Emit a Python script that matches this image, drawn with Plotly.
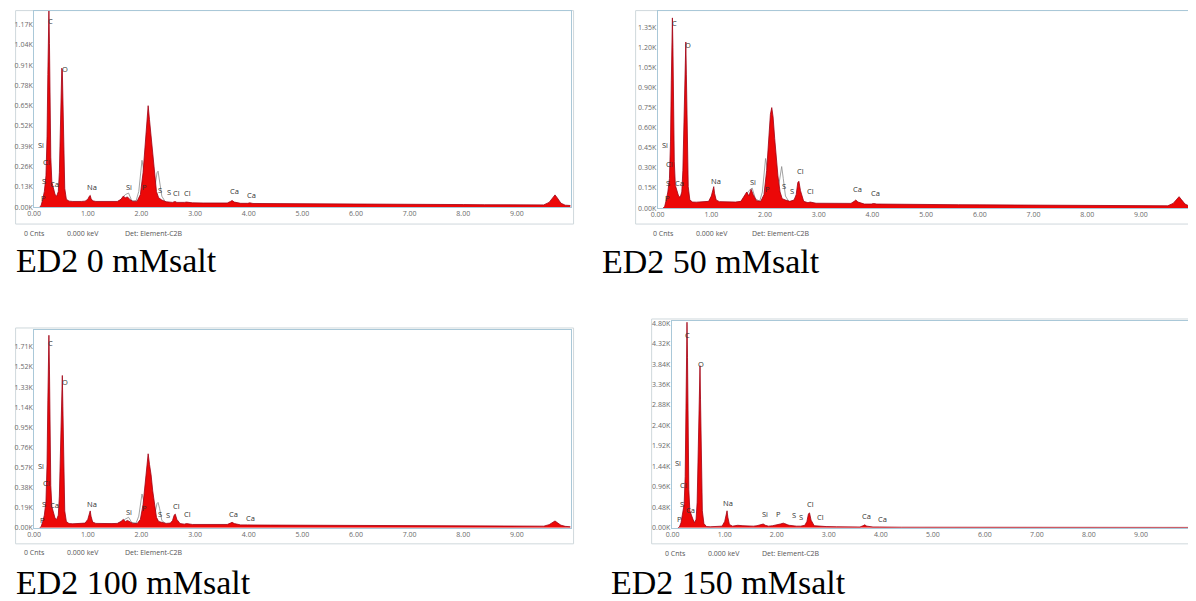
import plotly.graph_objects as go

W, H = 1196, 601
# observed mapping of figure pixels onto the photographed page
SX, OX = 0.9934, 15.85
SY, OY = 0.9907, 8.8

# ---------------- data ----------------
energy_kev = [
    0.10, 0.13, 0.16, 0.19, 0.22, 0.24, 0.255, 0.265, 0.275, 0.285,
    0.295, 0.31, 0.33, 0.35, 0.37, 0.39, 0.42, 0.45, 0.47, 0.49,
    0.505, 0.515, 0.525, 0.535, 0.55, 0.57, 0.60, 0.65, 0.72, 0.80,
    0.88, 0.95, 1.00, 1.03, 1.045, 1.06, 1.09, 1.15, 1.25, 1.35,
    1.45, 1.55, 1.62, 1.66, 1.70, 1.74, 1.78, 1.84, 1.92, 1.98,
    2.03, 2.07, 2.10, 2.125, 2.15, 2.18, 2.21, 2.24, 2.28, 2.32,
    2.38, 2.46, 2.54, 2.58, 2.61, 2.63, 2.66, 2.72, 2.80, 2.84,
    2.95, 3.15, 3.40, 3.60, 3.66, 3.69, 3.73, 3.85, 3.98, 4.02,
    4.08, 4.40, 4.80, 5.20, 5.60, 6.00, 6.40, 6.80, 7.20, 7.60,
    8.00, 8.40, 8.80, 9.20, 9.50, 9.60, 9.67, 9.71, 9.75, 9.82, 9.90, 10.00,
]

# counts in thousands (K)
counts_0mM = [
    0.00, 0.01, 0.05, 0.10, 0.20, 0.45, 0.85, 1.15, 1.26, 1.05,
    0.70, 0.32, 0.16, 0.13, 0.10, 0.08, 0.07, 0.10, 0.22, 0.55,
    0.80, 0.89, 0.88, 0.70, 0.35, 0.12, 0.05, 0.038, 0.036, 0.035,
    0.036, 0.038, 0.05, 0.07, 0.075, 0.055, 0.04, 0.036, 0.035, 0.034,
    0.034, 0.036, 0.05, 0.07, 0.06, 0.065, 0.05, 0.036, 0.038, 0.08,
    0.22, 0.42, 0.58, 0.65, 0.56, 0.45, 0.32, 0.20, 0.10, 0.06,
    0.045, 0.034, 0.03, 0.03, 0.034, 0.035, 0.03, 0.028, 0.03, 0.032,
    0.027, 0.026, 0.025, 0.026, 0.036, 0.042, 0.032, 0.024, 0.024, 0.027,
    0.023, 0.022, 0.022, 0.021, 0.02, 0.02, 0.019, 0.018, 0.017, 0.016,
    0.016, 0.015, 0.014, 0.014, 0.014, 0.03, 0.06, 0.078, 0.06, 0.025, 0.012, 0.01,
]
counts_50mM = [
    0.00, 0.01, 0.06, 0.12, 0.22, 0.50, 0.95, 1.30, 1.42, 1.20,
    0.80, 0.35, 0.17, 0.14, 0.11, 0.09, 0.08, 0.12, 0.28, 0.70,
    1.05, 1.22, 1.24, 1.00, 0.50, 0.16, 0.06, 0.045, 0.044, 0.045,
    0.046, 0.05, 0.09, 0.15, 0.16, 0.11, 0.06, 0.048, 0.046, 0.045,
    0.045, 0.05, 0.10, 0.12, 0.09, 0.14, 0.10, 0.055, 0.05, 0.10,
    0.28, 0.55, 0.70, 0.75, 0.68, 0.52, 0.38, 0.24, 0.12, 0.07,
    0.06, 0.05, 0.06, 0.10, 0.19, 0.20, 0.13, 0.05, 0.04, 0.045,
    0.036, 0.034, 0.032, 0.035, 0.05, 0.06, 0.045, 0.03, 0.03, 0.034,
    0.03, 0.028, 0.027, 0.026, 0.025, 0.024, 0.023, 0.022, 0.021, 0.02,
    0.019, 0.018, 0.017, 0.017, 0.017, 0.035, 0.065, 0.085, 0.065, 0.03, 0.015, 0.012,
]
counts_100mM = [
    0.00, 0.01, 0.06, 0.12, 0.25, 0.60, 1.20, 1.65, 1.82, 1.50,
    0.95, 0.40, 0.20, 0.16, 0.12, 0.09, 0.08, 0.12, 0.30, 0.75,
    1.20, 1.42, 1.44, 1.15, 0.55, 0.16, 0.06, 0.04, 0.038, 0.038,
    0.04, 0.045, 0.08, 0.14, 0.16, 0.11, 0.055, 0.042, 0.04, 0.04,
    0.04, 0.042, 0.06, 0.08, 0.06, 0.07, 0.06, 0.042, 0.04, 0.08,
    0.22, 0.45, 0.62, 0.70, 0.60, 0.50, 0.35, 0.22, 0.10, 0.06,
    0.05, 0.042, 0.045, 0.07, 0.12, 0.13, 0.08, 0.04, 0.035, 0.04,
    0.032, 0.03, 0.03, 0.032, 0.045, 0.052, 0.04, 0.028, 0.028, 0.03,
    0.027, 0.026, 0.025, 0.024, 0.023, 0.022, 0.021, 0.02, 0.02, 0.019,
    0.018, 0.017, 0.017, 0.016, 0.016, 0.03, 0.05, 0.065, 0.05, 0.025, 0.014, 0.01,
]
counts_150mM = [
    0.00, 0.02, 0.12, 0.30, 0.55, 1.20, 2.80, 4.20, 4.82, 4.00,
    2.40, 0.90, 0.40, 0.32, 0.28, 0.20, 0.12, 0.20, 0.60, 2.00,
    3.30, 3.78, 3.80, 3.00, 1.30, 0.40, 0.10, 0.03, 0.025, 0.025,
    0.03, 0.04, 0.15, 0.36, 0.40, 0.25, 0.08, 0.04, 0.06, 0.05,
    0.04, 0.04, 0.05, 0.06, 0.07, 0.09, 0.06, 0.04, 0.05, 0.06,
    0.08, 0.09, 0.10, 0.11, 0.10, 0.08, 0.07, 0.06, 0.05, 0.05,
    0.04, 0.04, 0.06, 0.15, 0.33, 0.35, 0.18, 0.05, 0.04, 0.05,
    0.03, 0.025, 0.02, 0.02, 0.05, 0.07, 0.04, 0.02, 0.02, 0.025,
    0.018, 0.015, 0.014, 0.012, 0.012, 0.011, 0.01, 0.01, 0.01, 0.01,
    0.01, 0.01, 0.01, 0.01, 0.01, 0.01, 0.012, 0.012, 0.012, 0.01, 0.01, 0.01,
]

# grey fit outline (visible around Si, P and S)
fit_energy = [1.55, 1.62, 1.70, 1.76, 1.82, 1.90, 1.95, 1.98, 2.01, 2.04,
              2.07, 2.10, 2.22, 2.26, 2.29, 2.31, 2.34, 2.38, 2.45]
fit_0mM = [0.03, 0.05, 0.08, 0.09, 0.04, 0.04, 0.10, 0.22, 0.30, 0.24,
           0.12, 0.05, 0.05, 0.14, 0.22, 0.23, 0.17, 0.07, 0.03]
fit_50mM = [0.045, 0.08, 0.13, 0.15, 0.07, 0.05, 0.12, 0.28, 0.37, 0.30,
            0.15, 0.06, 0.08, 0.20, 0.29, 0.31, 0.22, 0.09, 0.045]
fit_100mM = [0.04, 0.06, 0.09, 0.10, 0.05, 0.045, 0.11, 0.24, 0.32, 0.26,
             0.13, 0.05, 0.06, 0.15, 0.23, 0.24, 0.18, 0.07, 0.04]

panel_captions = ["ED2 0 mMsalt", "ED2 50 mMsalt", "ED2 100 mMsalt", "ED2 150 mMsalt"]

x_tick_vals = [0, 1, 2, 3, 4, 5, 6, 7, 8, 9]
y_ticks_0mM = [0.00, 0.13, 0.26, 0.39, 0.52, 0.65, 0.78, 0.91, 1.04, 1.17]
y_ticks_50mM = [0.00, 0.15, 0.30, 0.45, 0.60, 0.75, 0.90, 1.05, 1.20, 1.35]
y_ticks_100mM = [0.00, 0.19, 0.38, 0.57, 0.76, 0.95, 1.14, 1.33, 1.52, 1.71]
y_ticks_150mM = [0.00, 0.48, 0.96, 1.44, 1.92, 2.40, 2.88, 3.36, 3.84, 4.32, 4.80]

element_names = ["C", "O", "Si", "Cl", "S", "Ca", "P", "Na", "Si", "P",
                 "S", "S", "Cl", "Cl", "Ca", "Ca"]
label_x_0mM = [0.31, 0.57, 0.135, 0.23, 0.185, 0.37, 0.17, 1.08, 1.77, 2.05, 2.34, 2.51, 2.65, 2.85, 3.73, 4.05]
label_y_0mM = [1.195, 0.886, 0.40, 0.29, 0.167, 0.148, 0.06, 0.13, 0.13, 0.13, 0.108, 0.098, 0.092, 0.092, 0.10, 0.08]
label_x_50mM = [0.317, 0.565, 0.13, 0.22, 0.19, 0.40, 0.19, 1.08, 1.78, 2.05, 2.35, 2.50, 2.66, 2.85, 3.72, 4.06]
label_y_50mM = [1.38, 1.22, 0.47, 0.33, 0.19, 0.19, 0.077, 0.20, 0.196, 0.144, 0.164, 0.127, 0.28, 0.13, 0.144, 0.114]
label_x_100mM = [0.31, 0.57, 0.135, 0.23, 0.185, 0.38, 0.16, 1.08, 1.77, 2.06, 2.34, 2.50, 2.66, 2.85, 3.71, 4.04]
label_y_100mM = [1.75, 1.38, 0.586, 0.42, 0.224, 0.217, 0.076, 0.224, 0.154, 0.186, 0.135, 0.123, 0.208, 0.129, 0.135, 0.097]
label_x_150mM = [0.29, 0.55, 0.10, 0.21, 0.17, 0.35, 0.13, 1.06, 1.77, 2.04, 2.33, 2.47, 2.65, 2.84, 3.72, 4.04]
label_y_150mM = [4.53, 3.83, 1.53, 1.0, 0.57, 0.42, 0.2, 0.59, 0.335, 0.32, 0.30, 0.26, 0.57, 0.26, 0.28, 0.2]

footer_texts = ["0 Cnts", "0.000 keV", "Det: Element-C2B"]

# ---------------- layout geometry (target pixels in the picture) ----------------
# inner: (left, right, top, bottom) of the plot area; xr: energy at left/right edge
panels = [
    dict(counts=counts_0mM, fit=fit_0mM, yt=y_ticks_0mM, ymax=1.275,
         lx=label_x_0mM, ly=label_y_0mM, xr=(0.0, 10.0),
         inner=(35, 571, 7, 206), outer=(8, 574, 4, 223),
         footer_y=232, footer_x=(25, 68, 126), cap=(7, 259.5)),
    dict(counts=counts_50mM, fit=fit_50mM, yt=y_ticks_50mM, ymax=1.47,
         lx=label_x_50mM, ly=label_y_50mM, xr=(0.0, 9.97),
         inner=(658, 1193, 10, 207), outer=(636, 1195, 7, 223),
         footer_y=232, footer_x=(653, 696, 752), cap=(602, 260)),
    dict(counts=counts_100mM, fit=fit_100mM, yt=y_ticks_100mM, ymax=1.87,
         lx=label_x_100mM, ly=label_y_100mM, xr=(0.0, 10.0),
         inner=(35, 571, 329, 527), outer=(8, 574, 327, 543),
         footer_y=552, footer_x=(25, 68, 126), cap=(8, 581.5)),
    dict(counts=counts_150mM, fit=None, yt=y_ticks_150mM, ymax=4.85,
         lx=label_x_150mM, ly=label_y_150mM, xr=(-0.02, 10.02),
         inner=(672, 1194, 320, 527), outer=(652, 1195, 318, 543),
         footer_y=553, footer_x=(665, 708, 762), cap=(611, 581.5)),
]

TOP_MIN = OY + 0.6      # first picture row the figure can reach
LEFT_MIN = OX + 0.6


def fx(px):
    return (px - OX) / SX / W


def fy(py):
    return 1 - (py - OY) / SY / H


fig = go.Figure()
layout = dict(width=W, height=H, margin=dict(l=0, r=0, t=0, b=0),
              paper_bgcolor="white", plot_bgcolor="white", showlegend=False)
shapes, annotations = [], []

tick_font = dict(family="Open Sans", size=7, color="#6a6a6a")

for i, p in enumerate(panels):
    n = "" if i == 0 else str(i + 1)
    xa, ya = "x" + n, "y" + n
    x0, x1, y0, y1 = p["inner"]
    top = max(y0, TOP_MIN)
    ymax = p["ymax"] * (y1 - top) / (y1 - y0)
    if p["fit"] is not None:
        fig.add_trace(go.Scatter(x=fit_energy, y=p["fit"], mode="lines",
                                 line=dict(color="#8a8a8a", width=0.8),
                                 xaxis=xa, yaxis=ya, hoverinfo="skip"))
    fig.add_trace(go.Scatter(x=energy_kev, y=p["counts"], mode="lines",
                             fill="tozeroy", fillcolor="rgb(236,8,8)",
                             line=dict(color="rgb(160,0,20)", width=0.8),
                             xaxis=xa, yaxis=ya, hoverinfo="skip"))
    layout["xaxis" + n] = dict(
        domain=[fx(x0), fx(x1)], range=list(p["xr"]), anchor=ya,
        tickvals=x_tick_vals, ticktext=[f"{v:.2f}" for v in x_tick_vals],
        tickfont=tick_font, showgrid=False, zeroline=False, ticks="",
        showline=True, linecolor="#aac8d8", linewidth=1, mirror=True,
        fixedrange=True)
    layout["yaxis" + n] = dict(
        domain=[fy(y1), fy(top)], range=[0, ymax], anchor=xa,
        tickvals=p["yt"], ticktext=[f"{v:.2f}K" for v in p["yt"]],
        tickfont=tick_font, showgrid=False, zeroline=False, ticks="",
        ticklabelstandoff=-1,
        showline=True, linecolor="#aac8d8", linewidth=1, mirror=True,
        fixedrange=True)
    ox0, ox1, oy0, oy1 = p["outer"]
    shapes.append(dict(type="rect", xref="paper", yref="paper",
                       x0=fx(max(ox0, LEFT_MIN)), x1=fx(ox1),
                       y0=fy(oy1), y1=fy(max(oy0, TOP_MIN)),
                       line=dict(color="#cfd8dc", width=1), layer="below"))
    for name, lx, ly in zip(element_names, p["lx"], p["ly"]):
        annotations.append(dict(x=lx, y=ly, xref=xa, yref=ya, text=name,
                                showarrow=False, xanchor="center", yanchor="middle",
                                font=dict(family="Open Sans", size=7.5, color="#333333")))
    for txt, fxp in zip(footer_texts, p["footer_x"]):
        annotations.append(dict(x=fx(fxp - 2), y=fy(p["footer_y"]), xref="paper", yref="paper",
                                text=txt, showarrow=False, xanchor="left", yanchor="middle",
                                align="left",
                                font=dict(family="Open Sans", size=7, color="#555555")))
    cx, cy = p["cap"]
    annotations.append(dict(x=fx(max(cx, LEFT_MIN)) - 2 / W, y=fy(cy), xref="paper", yref="paper",
                            text=panel_captions[i], showarrow=False,
                            xanchor="left", yanchor="middle", align="left",
                            font=dict(family="Liberation Serif", size=34, color="black")))

layout["shapes"] = shapes
layout["annotations"] = annotations
fig.update_layout(**layout)
fig.write_html("out.html")
